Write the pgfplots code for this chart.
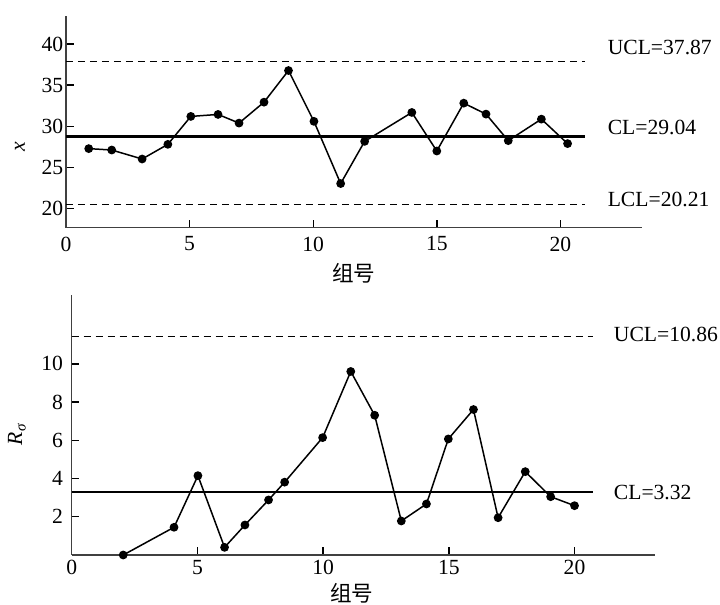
\documentclass[border=0pt]{standalone}
\usepackage{fontspec}
\setmainfont{Liberation Serif}
\newfontfamily\cjk{Noto Sans CJK SC}
\usepackage{pgfplots}
\pgfplotsset{compat=1.18}

\begin{document}
\fontsize{10.8}{12}\selectfont
\begin{tikzpicture}
\path[use as bounding box] (0,0) rectangle (360pt,-302.5pt);
\pgfplotsset{
  cc/.style={
    scale only axis,
    axis x line=bottom, axis y line=left,
    axis line style={-, black!75, line width=0.6pt},
    tick align=inside,
    major tick length=3.8pt,
    tick style={black, line width=0.7pt},
    /pgf/number format/assume math mode=true,
    tick label style={font=\fontsize{10.8}{12}\selectfont},
    label style={font=\fontsize{10.8}{12}\selectfont},
    clip=false,
  },
  dat/.style={black, line width=0.75pt, mark=*, mark size=1.8pt, mark options={solid, fill=black}},
  ucl/.style={black, line width=0.55pt, dash pattern=on 3.7pt off 2.3pt},
}
% ---------------- top chart ----------------
\begin{axis}[cc, at={(33pt,-113.85pt)}, anchor=south west,
  width=288pt, height=105.85pt,
  xmin=0, xmax=23.3, ymin=17.7, ymax=43.4,
  xtick={0,5,10,15,20}, ytick={20,25,30,35,40},
  yticklabel style={inner xsep=1.2pt},
  xticklabel style={inner ysep=4.3pt},
  xlabel={\cjk 组号},
  xlabel style={at={(axis description cs:0.5,-0.213)}, anchor=center},
  ylabel={\textit{x}},
  ylabel style={at={(axis description cs:-0.08,0.381)}, anchor=center},
]
\addplot[ucl] coordinates {(0,37.87) (21,37.87)};
\addplot[black, line width=1.65pt] coordinates {(0,28.75) (21,28.75)};
\addplot[ucl] coordinates {(0,20.5) (21,20.5)};
\addplot[dat] coordinates {
(0.92,27.30) (1.85,27.13) (3.08,26.04) (4.12,27.82) (5.05,31.21)
(6.15,31.45) (7.0,30.40) (8.01,32.94) (9.0,36.78) (10.03,30.61)
(11.11,23.06) (12.08,28.18) (13.99,31.69) (15.0,27.01) (16.09,32.82)
(16.99,31.49) (17.89,28.27) (19.23,30.88) (20.29,27.91)};
\node[anchor=west, inner sep=0pt] at (axis cs:21.9,39.56) {UCL=37.87};
\node[anchor=west, inner sep=0pt] at (axis cs:21.9,29.82) {CL=29.04};
\node[anchor=west, inner sep=0pt] at (axis cs:21.9,21.16) {LCL=20.21};
\end{axis}
% ---------------- bottom chart ----------------
\begin{axis}[cc, at={(35.85pt,-277.5pt)}, anchor=south west,
  width=291.65pt, height=130pt,
  xmin=0, xmax=23.2, ymin=0, ymax=13.6,
  xtick={0,5,10,15,20}, ytick={2,4,6,8,10},
  yticklabel style={inner xsep=4.2pt},
  xticklabel style={inner ysep=2.3pt},
  xlabel={\cjk 组号},
  xlabel style={at={(axis description cs:0.48,-0.146)}, anchor=center},
  ylabel={\textit{R}\textsubscript{\textit{σ}}},
  ylabel style={at={(axis description cs:-0.094,0.465)}, anchor=center},
]
\addplot[ucl] coordinates {(0,11.43) (20.75,11.43)};
\addplot[black, line width=1pt] coordinates {(0,3.32) (20.75,3.32)};
\addplot[dat] coordinates {
(2.05,0.0) (4.07,1.45) (5.02,4.15) (6.08,0.40) (6.89,1.57) (7.83,2.88)
(8.47,3.81) (9.98,6.14) (11.10,9.60) (12.05,7.31) (13.11,1.78) (14.11,2.67)
(14.98,6.07) (15.98,7.61) (16.96,1.95) (18.04,4.36) (19.05,3.05) (20.0,2.58)};
\node[anchor=west, inner sep=0pt] at (axis cs:21.55,11.52) {UCL=10.86};
\node[anchor=west, inner sep=0pt] at (axis cs:21.55,3.27) {CL=3.32};
\end{axis}
\end{tikzpicture}
\end{document}
